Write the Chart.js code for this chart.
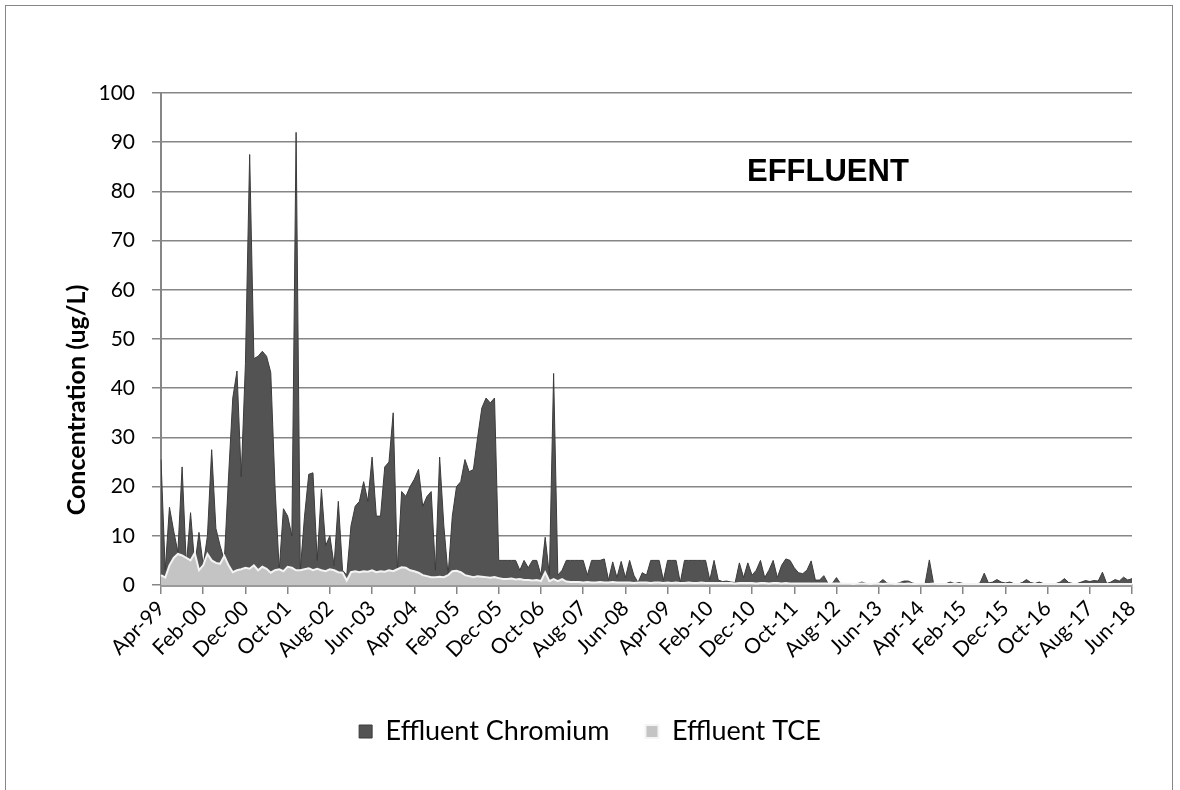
<!DOCTYPE html>
<html><head><meta charset="utf-8">
<script src="https://cdn.jsdelivr.net/npm/chart.js@4.4.1/dist/chart.umd.min.js"></script>
<style>
html,body{margin:0;padding:0;background:#fff;}
#wrap{position:absolute;left:0;top:0;width:1180px;height:790px;overflow:hidden;}
#frame{position:absolute;left:5px;top:5px;width:1168px;height:800px;border:1px solid #868686;box-sizing:border-box;}
canvas{position:absolute;left:0;top:0;}
</style></head><body>
<div id="wrap"><div id="frame"></div><canvas id="c" width="1180" height="790"></canvas></div>
<script>
const monthNames = ['Jan','Feb','Mar','Apr','May','Jun','Jul','Aug','Sep','Oct','Nov','Dec'];
const startMonth = 3, startYear = 1999, monthCount = 231, tickEvery = 10;
const categories = [];
for (let i = 0; i < monthCount; i++) {
  const m = (startMonth + i) % 12;
  const y = startYear + Math.floor((startMonth + i) / 12);
  categories.push(monthNames[m] + '-' + String(y % 100).padStart(2, '0'));
}
const seriesNames = ['Effluent Chromium', 'Effluent TCE'];
const chromium = [
25.5,3,15.8,11,6.7,24,4,14.7,4,10.7,
4,10,27.5,11.5,8,5,22,38,43.5,22,
45,87.5,46,46.5,47.5,46.5,43.2,20,3,15.5,
14,10,92,3,14,22.5,22.8,5,19.5,8,
10,4,17,3,2,12,16,17,21,17,
26,14,14,24,25,35,3,19,18,20,
21.5,23.5,16,18,19,3,26,12,2,14,
20,21,25.5,23,23.5,30,36,38,37,38,
5,5,5,5,5,3,5,3.5,5,5,
2,9.7,2,43,2,3,5,5,5,5,
5,2,5,5,5,5.3,1,4.7,1.5,4.8,
1.5,5,2,0.5,2.5,2,5,5,5,1,
5,5,5,0.5,5,5,5,5,5,5,
1,5,1,0.7,0.8,0.6,0.5,4.5,1.5,4.5,
2,3,5,1.5,3,5,1.5,4,5.3,5,
3.5,2.5,2.3,3,4.9,1,1,1.9,0.3,0.3,
1.5,0.2,0.2,0.2,0.2,0.3,0.6,0.3,0.2,0.2,
0.4,1.1,0.4,0.2,0.2,0.5,0.8,0.8,0.4,0.2,
0.2,0.3,5.1,0.3,0.2,0.2,0.3,0.6,0.3,0.5,
0.3,0.2,0.2,0.2,0.4,2.4,0.4,0.6,1.1,0.6,
0.4,0.6,0.3,0.2,0.5,1.1,0.5,0.3,0.6,0.3,
0.2,0.2,0.3,0.6,1.3,0.5,0.3,0.3,0.6,0.9,
0.7,0.9,0.8,2.6,0.3,0.6,1.1,0.8,1.6,1,
1.3];
const tce = [
2,1.5,4,5.5,6.3,6,5.5,5,6.5,3,
4,6.3,5,4.5,4.3,5.9,4,2.6,3,3.2,
3.5,3.3,4,3,3.7,3.3,2.5,3,3.2,2.8,
3.7,3.5,3,3,3.2,3.4,3,3.3,3,2.8,
3.2,3,2.6,2.5,0.9,2.6,2.8,2.6,2.8,2.7,
3,2.6,2.8,2.7,3,2.8,3.2,3.6,3.5,3,
2.8,2.5,2,1.8,1.6,1.6,1.7,1.6,2,2.8,
2.9,2.6,2,1.8,1.6,1.8,1.7,1.6,1.5,1.6,
1.4,1.2,1.2,1.3,1.1,1.2,1,1,0.9,1,
0.8,2.6,0.8,1.2,0.8,1.2,0.7,0.6,0.6,0.6,
0.5,0.6,0.5,0.5,0.6,0.5,0.5,0.6,0.5,0.5,
0.5,0.5,0.4,0.5,0.5,0.5,0.4,0.5,0.5,0.4,
0.5,0.4,0.5,0.4,0.4,0.5,0.4,0.4,0.5,0.4,
0.4,0.4,0.4,0.4,0.4,0.4,0.3,0.4,0.4,0.4,
0.4,0.3,0.4,0.4,0.3,0.4,0.4,0.3,0.4,0.3,
0.3,0.3,0.3,0.3,0.3,0.3,0.3,0.3,0.3,0.3,
0.3,0.3,0.3,0.3,0.2,0.3,0.3,0.3,0.2,0.3,
0.3,0.2,0.3,0.3,0.2,0.3,0.2,0.3,0.2,0.2,
0.3,0.2,0.2,0.3,0.2,0.2,0.2,0.2,0.3,0.2,
0.2,0.2,0.2,0.2,0.2,0.2,0.2,0.2,0.2,0.2,
0.2,0.2,0.2,0.2,0.2,0.2,0.2,0.2,0.2,0.2,
0.2,0.2,0.2,0.2,0.2,0.2,0.2,0.2,0.2,0.2,
0.2,0.2,0.2,0.2,0.2,0.2,0.2,0.2,0.2,0.2,
0.2];
const yTicks = {min: 0, max: 100, step: 10};
const chartLabel = 'EFFLUENT';
const yTitle = 'Concentration (ug/L)';

const textPlugin = {
  id: 'texts',
  afterDraw(chart) {
    const c = chart.ctx;
    c.save();
    c.fillStyle = '#000';
    c.textBaseline = 'alphabetic';
    c.font = 'bold 31px "Liberation Sans", Arial, sans-serif';
    c.fillText(chartLabel, 747, 181);
    c.translate(85, 400);
    c.rotate(-Math.PI / 2);
    c.textAlign = 'center';
    c.font = 'bold 25px Lato';
    c.fillText(yTitle, 0, 0);
    c.restore();
  }
};

new Chart(document.getElementById('c'), {
  type: 'line',
  data: {
    labels: categories,
    datasets: [
      {label: seriesNames[0], data: chromium, fill: 'origin', backgroundColor: '#535353', borderColor: '#3c3c3c', borderWidth: 1, pointRadius: 0, tension: 0, order: 2},
      {label: seriesNames[1], data: tce, fill: 'origin', backgroundColor: '#c4c4c4', borderColor: '#f4f4f4', borderWidth: 2, pointRadius: 0, tension: 0, order: 1}
    ]
  },
  options: {
    responsive: false, animation: false,
    layout: {padding: {left: 0, top: 93, right: 0, bottom: 35}},
    plugins: {
      legend: {position: 'bottom', labels: {boxWidth: 13, boxHeight: 13, padding: 36, color: '#000', font: {family: 'Lato', size: 27}, sort: (a, b) => a.datasetIndex - b.datasetIndex}},
      tooltip: {enabled: false}
    },
    scales: {
      x: {
        type: 'category', offset: false,
        grid: {display: true, drawOnChartArea: false, drawTicks: true, tickLength: 9, color: '#868686', lineWidth: 1.5},
        border: {display: true, color: '#9a9a9a', width: 3},
        ticks: {autoSkip: false, maxRotation: 45, minRotation: 45, padding: 2, color: '#000', font: {family: 'Lato', size: 21},
          callback: function(v, i) { return i % tickEvery === 0 ? categories[i] : null; }},
        afterFit: s => { s.height = 97; }
      },
      y: {
        min: yTicks.min, max: yTicks.max,
        ticks: {stepSize: yTicks.step, padding: 17, color: '#000', font: {family: 'Lato', size: 21}},
        grid: {color: '#868686', lineWidth: 1.5, tickLength: 9},
        border: {color: '#868686', width: 2},
        afterFit: s => { s.width = 161; }
      },
      yRight: {
        axis: 'y', type: 'linear', position: 'right', min: yTicks.min, max: yTicks.max,
        grid: {display: false}, border: {display: false}, ticks: {display: false},
        afterFit: s => { s.width = 48; }
      }
    }
  },
  plugins: [textPlugin]
});
</script>
</body></html>
